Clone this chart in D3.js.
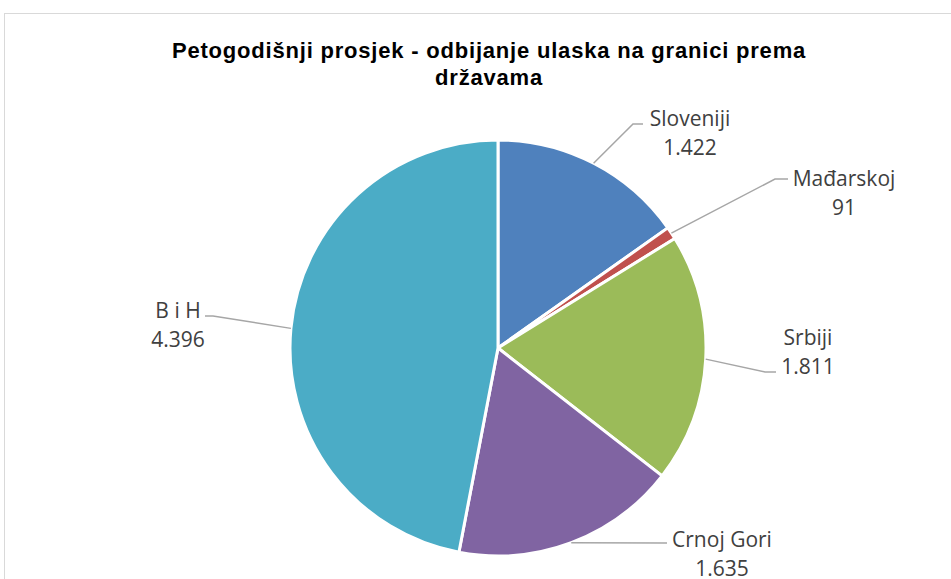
<!DOCTYPE html>
<html>
<head>
<meta charset="utf-8">
<script src="https://cdn.jsdelivr.net/npm/d3@7"></script>
<style>
  body { margin: 0; background: #fff; }
  svg { display: block; }
</style>
</head>
<body>
<svg id="chart" width="951" height="579"></svg>
<script>
// Five-year average of refused entries at the border, by neighbouring country
const categories = ["Sloveniji", "Mađarskoj", "Srbiji", "Crnoj Gori", "B i H"];
const values = [1422, 91, 1811, 1635, 4396];
const colors = ["#4F81BD", "#C0504D", "#9BBB59", "#8064A2", "#4BACC6"];
const titleLines = ["Petogodišnji prosjek - odbijanje ulaska na granici prema", "državama"];

// Label placement: elbow of leader line, end of leader line, text centre, name baseline
const labelLayout = [
  { elbow: [633, 124], end: [643, 124], tx: 690, ty: 126 },
  { elbow: [775, 179], end: [788, 179], tx: 844, ty: 186 },
  { elbow: [765, 372], end: [776, 372], tx: 808, ty: 345 },
  { elbow: [667, 543], end: [667, 543], tx: 722, ty: 547 },
  { elbow: [213, 316], end: [205, 316], tx: 178, ty: 318 }
];

const W = 951, H = 579;
const cx = 498, cy = 348, R = 208;

const locale = d3.formatLocale({ decimal: ",", thousands: ".", grouping: [3], currency: ["", ""] });
const fmt = locale.format(",d");

const svg = d3.select("#chart");

// chart area frame
svg.append("rect")
  .attr("x", 4.5).attr("y", 13.5)
  .attr("width", W + 20).attr("height", H + 20)
  .attr("fill", "#fff")
  .attr("stroke", "#D9D9D9")
  .attr("stroke-width", 1);

// title
const title = svg.append("text")
  .attr("text-anchor", "middle")
  .attr("font-family", "'Liberation Sans', Arial, sans-serif")
  .attr("font-weight", "bold")
  .attr("font-size", 22)
  .attr("letter-spacing", 0.8)
  .attr("fill", "#000");
titleLines.forEach((t, i) => {
  title.append("tspan").attr("x", 489).attr("y", 58 + i * 27).text(t);
});

const data = categories.map((c, i) => ({ name: c, value: values[i], color: colors[i], layout: labelLayout[i] }));

const pie = d3.pie().sort(null).value(d => d.value).startAngle(0).endAngle(2 * Math.PI);
const arcs = pie(data);
const arc = d3.arc().innerRadius(0).outerRadius(R);

const g = svg.append("g").attr("transform", `translate(${cx},${cy})`);

g.selectAll("path.slice")
  .data(arcs)
  .join("path")
  .attr("class", "slice")
  .attr("d", arc)
  .attr("fill", d => d.data.color)
  .attr("stroke", "#fff")
  .attr("stroke-width", 3)
  .attr("stroke-linejoin", "round");

// leader lines from the slice rim at its mid angle
const rimPoint = d => {
  const a = (d.startAngle + d.endAngle) / 2;
  return [cx + R * Math.sin(a), cy - R * Math.cos(a)];
};

svg.selectAll("polyline.leader")
  .data(arcs)
  .join("polyline")
  .attr("class", "leader")
  .attr("points", d => [rimPoint(d), d.data.layout.elbow, d.data.layout.end].map(p => p.join(",")).join(" "))
  .attr("fill", "none")
  .attr("stroke", "#A6A6A6")
  .attr("stroke-width", 1.5);

// data labels: category name and value
const labels = svg.selectAll("text.lbl")
  .data(arcs)
  .join("text")
  .attr("class", "lbl")
  .attr("text-anchor", "middle")
  .attr("font-family", "'Open Sans', 'Noto Sans', sans-serif")
  .attr("font-size", 21)
  .attr("fill", "#404040");
labels.append("tspan")
  .attr("x", d => d.data.layout.tx)
  .attr("y", d => d.data.layout.ty)
  .text(d => d.data.name);
labels.append("tspan")
  .attr("x", d => d.data.layout.tx)
  .attr("y", d => d.data.layout.ty + 29)
  .text(d => fmt(d.data.value));
</script>
</body>
</html>
